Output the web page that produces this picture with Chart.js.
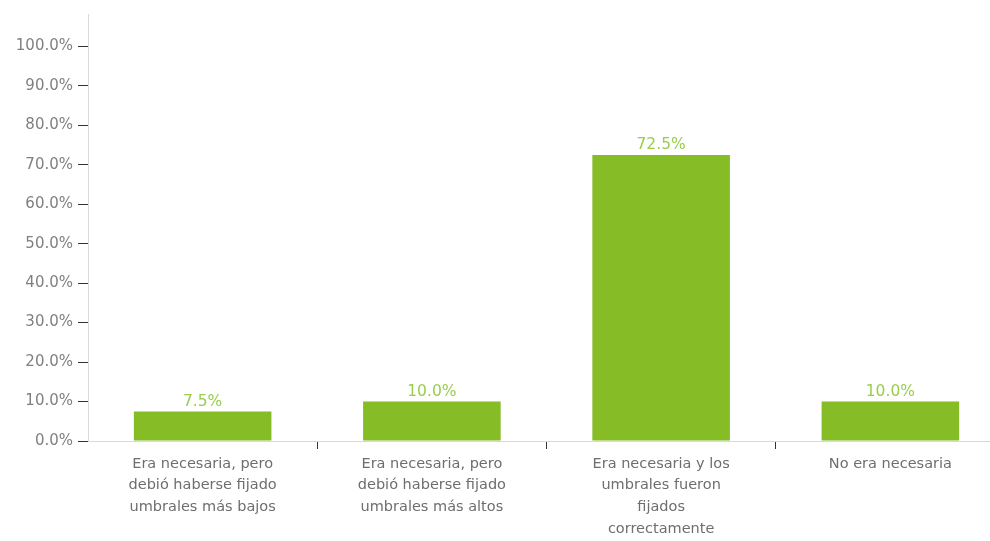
<!DOCTYPE html>
<html>
<head>
<meta charset="utf-8">
<script src="https://cdn.jsdelivr.net/npm/chart.js@4.4.0/dist/chart.umd.min.js"></script>
<style>
  html, body { margin: 0; padding: 0; background: #ffffff; overflow: hidden; }
  #wrap { width: 990px; height: 541px; position: relative; overflow: hidden; }
  #c { display: block; }
</style>
</head>
<body>
<div id="wrap"><canvas id="c" width="1005" height="541"></canvas></div>
<script>
const categories = [
  ["Era necesaria, pero", "debió haberse fijado", "umbrales más bajos"],
  ["Era necesaria, pero", "debió haberse fijado", "umbrales más altos"],
  ["Era necesaria y los", "umbrales fueron", "fijados", "correctamente"],
  ["No era necesaria"]
];
const values = [7.5, 10.0, 72.5, 10.0];
const yTicks = [0, 10, 20, 30, 40, 50, 60, 70, 80, 90, 100];

const FONT = "'DejaVu Sans', 'Open Sans', sans-serif";

const valueLabels = {
  id: 'valueLabels',
  afterDatasetsDraw(chart) {
    const ctx = chart.ctx;
    const meta = chart.getDatasetMeta(0);
    ctx.save();
    ctx.font = "15.5px " + FONT;
    ctx.fillStyle = '#9acd4c';
    ctx.textAlign = 'center';
    ctx.textBaseline = 'bottom';
    meta.data.forEach((bar, i) => {
      ctx.fillText(values[i].toFixed(1) + '%', bar.x, bar.y - 2);
    });
    ctx.restore();
  }
};

new Chart(document.getElementById('c'), {
  type: 'bar',
  data: {
    labels: categories,
    datasets: [{
      data: values,
      backgroundColor: '#86bc25',
      borderWidth: 0,
      barPercentage: 0.6,
      categoryPercentage: 1.0
    }]
  },
  options: {
    responsive: false,
    animation: false,
    devicePixelRatio: 1,
    layout: { padding: { left: 0, right: 0, top: 14, bottom: 0 } },
    plugins: { legend: { display: false }, tooltip: { enabled: false } },
    scales: {
      x: {
        afterFit(axis) { axis.height = 100; },
        grid: {
          display: true,
          drawOnChartArea: false,
          drawTicks: true,
          tickLength: 8,
          tickColor: (c) => c.index === 0 ? 'rgba(0,0,0,0)' : '#333333',
          offset: true
        },
        border: { display: true, color: '#d9d9d9', width: 1 },
        ticks: {
          color: '#6e6e6e',
          font: { family: FONT, size: 14.5, lineHeight: 1.5 },
          maxRotation: 0,
          autoSkip: false,
          padding: 4
        }
      },
      y: {
        min: 0,
        max: 108.2,
        afterFit(axis) { axis.width = 88; },
        afterBuildTicks(axis) {
          axis.ticks = yTicks.map(v => ({ value: v }));
        },
        grid: {
          display: true,
          drawOnChartArea: false,
          drawTicks: true,
          tickLength: 10,
          tickColor: '#333333'
        },
        border: { display: true, color: '#d9d9d9', width: 1 },
        ticks: {
          color: '#808080',
          font: { family: FONT, size: 15 },
          padding: 5,
          callback: (v) => Number(v).toFixed(1) + '%'
        }
      }
    }
  },
  plugins: [valueLabels]
});
</script>
</body>
</html>
